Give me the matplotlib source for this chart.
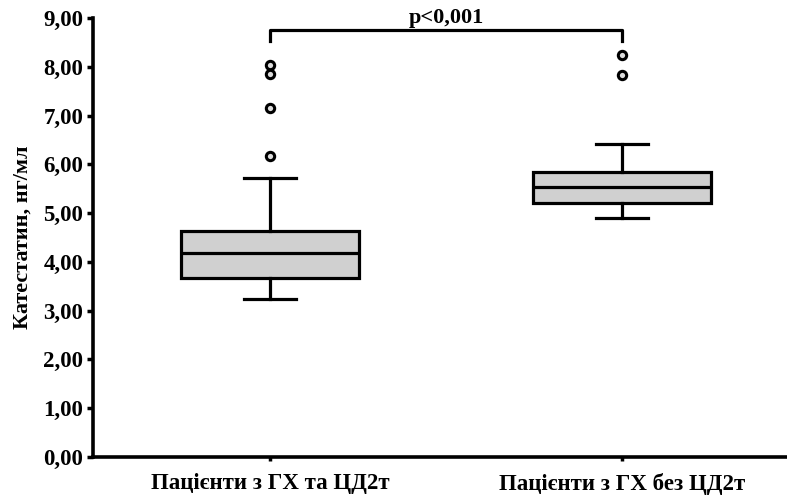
import matplotlib
matplotlib.use("Agg")
import matplotlib.pyplot as plt

plt.rcParams['font.family'] = ['Liberation Serif', 'DejaVu Serif']
plt.rcParams['font.weight'] = 'bold'

# Data
groups = ["Пацієнти з ГХ та ЦД2т", "Пацієнти з ГХ без ЦД2т"]
q1 = [3.66, 5.21]
median = [4.18, 5.53]
q3 = [4.63, 5.84]
whisker_low = [3.23, 4.91]
whisker_high = [5.71, 6.42]
outliers_g1 = [8.04, 7.86, 7.16, 6.17]
outliers_g2 = [8.25, 7.84]
y_ticks = [0, 1, 2, 3, 4, 5, 6, 7, 8, 9]
y_label = "Катестатин, нг/мл"
p_text = "p<0,001"
bracket_top = 8.75
bracket_end = 8.53

fig = plt.figure(figsize=(7.87, 4.95), dpi=100)
ax = fig.add_axes([93/787, 38/495, 694/787, 439/495])

stats = []
fliers = [outliers_g1, outliers_g2]
for i, g in enumerate(groups):
    stats.append(dict(label=g, q1=q1[i], med=median[i], q3=q3[i],
                      whislo=whisker_low[i], whishi=whisker_high[i], fliers=fliers[i]))

lw = 2.3
ax.bxp(stats, positions=[1, 2], widths=0.508, capwidths=0.148, patch_artist=True,
       boxprops=dict(facecolor='#d0d0d0', edgecolor='black', linewidth=lw),
       medianprops=dict(color='black', linewidth=lw),
       whiskerprops=dict(color='black', linewidth=lw),
       capprops=dict(color='black', linewidth=lw),
       flierprops=dict(marker='o', markersize=6, markerfacecolor='#dddddd',
                       markeredgecolor='black', markeredgewidth=2.2))

ax.set_xlim(0.497, 2.469)
ax.set_ylim(0, 9)
ax.set_yticks(y_ticks)
ax.set_yticklabels([f"{v:.2f}".replace('.', ',') for v in y_ticks])
ax.set_xticks([1, 2])
ax.set_xticklabels(groups)

for s in ['top', 'right']:
    ax.spines[s].set_visible(False)
for s in ['left', 'bottom']:
    ax.spines[s].set_linewidth(2.6)

ax.tick_params(axis='y', length=4, width=2.5, labelsize=16.5, pad=3)
ax.tick_params(axis='x', length=3, width=2.5, labelsize=16.5, pad=8.5)
for t in ax.get_xticklabels() + ax.get_yticklabels():
    t.set_fontweight('bold')

ax.set_ylabel(y_label, fontsize=16, fontweight='bold', labelpad=8)

# significance bracket
ax.plot([1, 1, 2, 2], [bracket_end, bracket_top, bracket_top, bracket_end],
        color='black', linewidth=lw, clip_on=False)
ax.text(1.5, bracket_top + 0.14, p_text, ha='center', va='baseline', fontsize=16,
        fontweight='bold', clip_on=False)

fig.savefig("out.png", dpi=100)
